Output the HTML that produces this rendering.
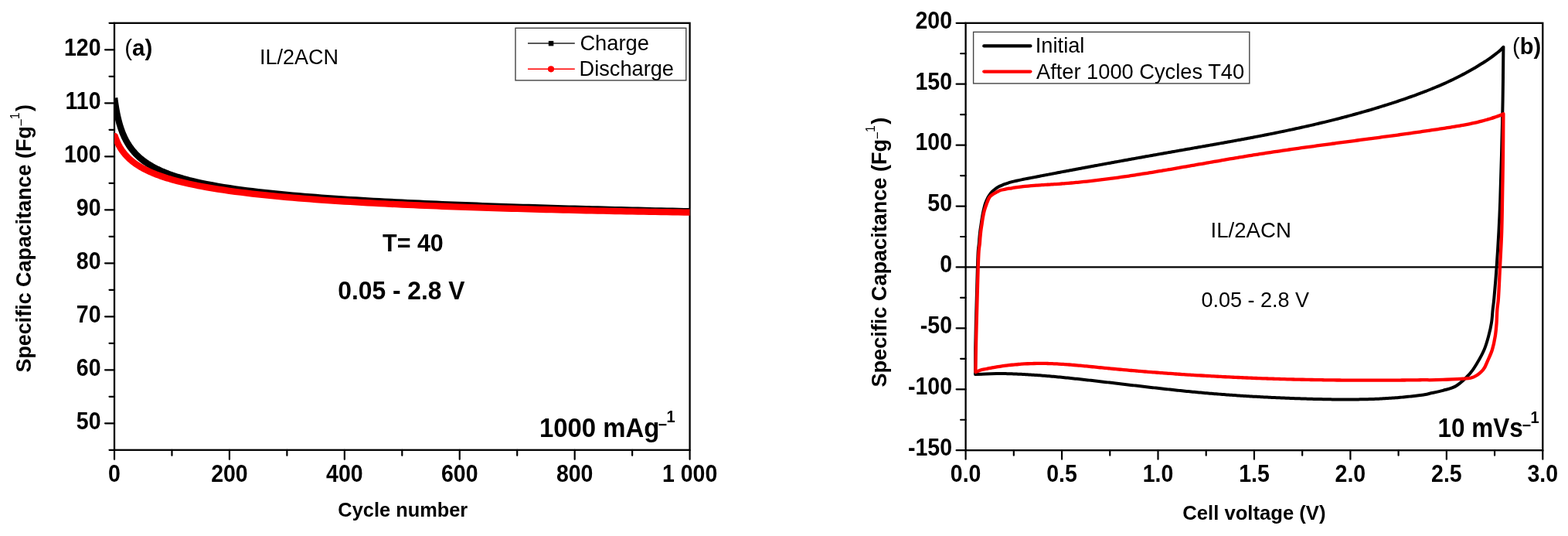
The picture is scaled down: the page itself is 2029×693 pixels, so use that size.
<!DOCTYPE html>
<html><head><meta charset="utf-8"><style>
html,body{margin:0;padding:0;background:#fff;}
svg{display:block;}
text{font-family:"Liberation Sans", Arial, sans-serif;fill:#000;}
</style></head><body>
<svg width="2029" height="693" viewBox="0 0 2029 693">
<rect width="2029" height="693" fill="#fff"/>
<rect x="148.00" y="29.80" width="744.60" height="552.00" fill="none" stroke="#000" stroke-width="2.3"/>
<line x1="141.50" y1="581.80" x2="148.00" y2="581.80" stroke="#000" stroke-width="2.2" stroke-linecap="round"/>
<line x1="136.00" y1="547.30" x2="148.00" y2="547.30" stroke="#000" stroke-width="2.2" stroke-linecap="round"/>
<line x1="141.50" y1="512.80" x2="148.00" y2="512.80" stroke="#000" stroke-width="2.2" stroke-linecap="round"/>
<line x1="136.00" y1="478.30" x2="148.00" y2="478.30" stroke="#000" stroke-width="2.2" stroke-linecap="round"/>
<line x1="141.50" y1="443.80" x2="148.00" y2="443.80" stroke="#000" stroke-width="2.2" stroke-linecap="round"/>
<line x1="136.00" y1="409.30" x2="148.00" y2="409.30" stroke="#000" stroke-width="2.2" stroke-linecap="round"/>
<line x1="141.50" y1="374.80" x2="148.00" y2="374.80" stroke="#000" stroke-width="2.2" stroke-linecap="round"/>
<line x1="136.00" y1="340.30" x2="148.00" y2="340.30" stroke="#000" stroke-width="2.2" stroke-linecap="round"/>
<line x1="141.50" y1="305.80" x2="148.00" y2="305.80" stroke="#000" stroke-width="2.2" stroke-linecap="round"/>
<line x1="136.00" y1="271.30" x2="148.00" y2="271.30" stroke="#000" stroke-width="2.2" stroke-linecap="round"/>
<line x1="141.50" y1="236.80" x2="148.00" y2="236.80" stroke="#000" stroke-width="2.2" stroke-linecap="round"/>
<line x1="136.00" y1="202.30" x2="148.00" y2="202.30" stroke="#000" stroke-width="2.2" stroke-linecap="round"/>
<line x1="141.50" y1="167.80" x2="148.00" y2="167.80" stroke="#000" stroke-width="2.2" stroke-linecap="round"/>
<line x1="136.00" y1="133.30" x2="148.00" y2="133.30" stroke="#000" stroke-width="2.2" stroke-linecap="round"/>
<line x1="141.50" y1="98.80" x2="148.00" y2="98.80" stroke="#000" stroke-width="2.2" stroke-linecap="round"/>
<line x1="136.00" y1="64.30" x2="148.00" y2="64.30" stroke="#000" stroke-width="2.2" stroke-linecap="round"/>
<line x1="141.50" y1="29.80" x2="148.00" y2="29.80" stroke="#000" stroke-width="2.2" stroke-linecap="round"/>
<text transform="translate(130.50,555.10) scale(1,1.07)" font-size="28.5" font-weight="bold" text-anchor="end" >50</text>
<text transform="translate(130.50,486.10) scale(1,1.07)" font-size="28.5" font-weight="bold" text-anchor="end" >60</text>
<text transform="translate(130.50,417.10) scale(1,1.07)" font-size="28.5" font-weight="bold" text-anchor="end" >70</text>
<text transform="translate(130.50,348.10) scale(1,1.07)" font-size="28.5" font-weight="bold" text-anchor="end" >80</text>
<text transform="translate(130.50,279.10) scale(1,1.07)" font-size="28.5" font-weight="bold" text-anchor="end" >90</text>
<text transform="translate(130.50,210.10) scale(1,1.07)" font-size="28.5" font-weight="bold" text-anchor="end" >100</text>
<text transform="translate(130.50,141.10) scale(1,1.07)" font-size="28.5" font-weight="bold" text-anchor="end" >110</text>
<text transform="translate(130.50,72.10) scale(1,1.07)" font-size="28.5" font-weight="bold" text-anchor="end" >120</text>
<line x1="148.00" y1="581.80" x2="148.00" y2="593.80" stroke="#000" stroke-width="2.2" stroke-linecap="round"/>
<line x1="222.46" y1="581.80" x2="222.46" y2="588.80" stroke="#000" stroke-width="2.2" stroke-linecap="round"/>
<line x1="296.92" y1="581.80" x2="296.92" y2="593.80" stroke="#000" stroke-width="2.2" stroke-linecap="round"/>
<line x1="371.38" y1="581.80" x2="371.38" y2="588.80" stroke="#000" stroke-width="2.2" stroke-linecap="round"/>
<line x1="445.84" y1="581.80" x2="445.84" y2="593.80" stroke="#000" stroke-width="2.2" stroke-linecap="round"/>
<line x1="520.30" y1="581.80" x2="520.30" y2="588.80" stroke="#000" stroke-width="2.2" stroke-linecap="round"/>
<line x1="594.76" y1="581.80" x2="594.76" y2="593.80" stroke="#000" stroke-width="2.2" stroke-linecap="round"/>
<line x1="669.22" y1="581.80" x2="669.22" y2="588.80" stroke="#000" stroke-width="2.2" stroke-linecap="round"/>
<line x1="743.68" y1="581.80" x2="743.68" y2="593.80" stroke="#000" stroke-width="2.2" stroke-linecap="round"/>
<line x1="818.14" y1="581.80" x2="818.14" y2="588.80" stroke="#000" stroke-width="2.2" stroke-linecap="round"/>
<line x1="892.60" y1="581.80" x2="892.60" y2="593.80" stroke="#000" stroke-width="2.2" stroke-linecap="round"/>
<text transform="translate(148.00,622.50) scale(1,1.07)" font-size="28.5" font-weight="bold" text-anchor="middle" >0</text>
<text transform="translate(296.92,622.50) scale(1,1.07)" font-size="28.5" font-weight="bold" text-anchor="middle" >200</text>
<text transform="translate(445.84,622.50) scale(1,1.07)" font-size="28.5" font-weight="bold" text-anchor="middle" >400</text>
<text transform="translate(594.76,622.50) scale(1,1.07)" font-size="28.5" font-weight="bold" text-anchor="middle" >600</text>
<text transform="translate(743.68,622.50) scale(1,1.07)" font-size="28.5" font-weight="bold" text-anchor="middle" >800</text>
<text transform="translate(892.60,622.50) scale(1,1.07)" font-size="28.5" font-weight="bold" text-anchor="middle" >1 000</text>
<defs><clipPath id="clipA"><rect x="148" y="29.8" width="744.6" height="552"/></clipPath><clipPath id="clipB"><rect x="1249.6" y="29.8" width="746.7" height="552.4"/></clipPath></defs>
<g clip-path="url(#clipA)" fill="none" stroke-linejoin="round" stroke-linecap="square">
<polyline points="148.74,130.82 149.12,133.45 149.49,135.92 149.86,138.26 150.23,140.47 150.61,142.57 150.98,144.57 151.35,146.47 151.72,148.29 152.10,150.02 152.47,151.68 152.84,153.28 153.21,154.81 153.58,156.27 153.96,157.69 154.33,159.05 154.70,160.37 155.07,161.63 155.45,162.86 155.82,164.05 156.19,165.19 156.56,166.30 156.94,167.38 157.31,168.43 157.68,169.44 158.05,170.43 158.42,171.39 158.80,172.32 159.17,173.23 159.54,174.11 159.91,174.97 160.29,175.81 160.66,176.63 161.03,177.43 161.40,178.21 161.78,178.97 162.15,179.72 162.52,180.44 162.89,181.16 164.38,183.85 165.87,186.34 167.36,188.64 168.85,190.77 170.34,192.77 171.83,194.64 173.32,196.39 174.81,198.05 176.29,199.61 177.78,201.09 179.27,202.49 180.76,203.83 182.25,205.10 183.74,206.32 185.23,207.48 186.72,208.59 188.21,209.66 189.70,210.68 191.19,211.67 192.68,212.61 194.17,213.53 195.65,214.41 197.14,215.26 198.63,216.08 200.12,216.87 201.61,217.64 203.10,218.39 204.59,219.11 206.08,219.81 207.57,220.49 209.06,221.16 210.55,221.80 212.04,222.42 213.52,223.03 215.01,223.63 216.50,224.21 217.99,224.77 219.48,225.32 220.97,225.86 222.46,226.38 229.91,228.83 237.35,231.02 244.80,233.01 252.24,234.82 259.69,236.49 267.14,238.02 274.58,239.44 282.03,240.77 289.47,242.01 296.92,243.17 304.37,244.26 311.81,245.29 319.26,246.26 326.70,247.18 334.15,248.06 341.60,248.90 349.04,249.69 356.49,250.45 363.93,251.18 371.38,251.88 378.83,252.54 386.27,253.19 393.72,253.80 401.16,254.40 408.61,254.97 416.06,255.53 423.50,256.06 430.95,256.58 438.39,257.08 445.84,257.56 453.29,258.03 460.73,258.49 468.18,258.93 475.62,259.36 483.07,259.78 490.52,260.19 497.96,260.58 505.41,260.97 512.85,261.34 520.30,261.71 527.75,262.07 535.19,262.42 542.64,262.76 550.08,263.09 557.53,263.41 564.98,263.73 572.42,264.04 579.87,264.34 587.31,264.64 594.76,264.93 602.21,265.22 609.65,265.50 617.10,265.77 624.54,266.04 631.99,266.30 639.44,266.56 646.88,266.81 654.33,267.06 661.77,267.30 669.22,267.54 676.67,267.78 684.11,268.01 691.56,268.24 699.00,268.46 706.45,268.68 713.90,268.90 721.34,269.11 728.79,269.32 736.23,269.53 743.68,269.73 751.13,269.93 758.57,270.13 766.02,270.32 773.46,270.51 780.91,270.70 788.36,270.88 795.80,271.07 803.25,271.25 810.69,271.42 818.14,271.60 825.59,271.77 833.03,271.94 840.48,272.11 847.92,272.28 855.37,272.44 862.82,272.60 870.26,272.76 877.71,272.92 885.15,273.07 892.00,273.21 894.83,273.27" stroke="#000" stroke-width="8.3"/>
<polyline points="148.74,175.96 149.12,177.05 149.49,178.10 149.86,179.11 150.23,180.08 150.61,181.02 150.98,181.92 151.35,182.79 151.72,183.63 152.10,184.44 152.47,185.23 152.84,185.99 153.21,186.73 153.58,187.45 153.96,188.15 154.33,188.83 154.70,189.49 155.07,190.14 155.45,190.77 155.82,191.38 156.19,191.98 156.56,192.56 156.94,193.13 157.31,193.69 157.68,194.24 158.05,194.77 158.42,195.29 158.80,195.80 159.17,196.30 159.54,196.79 159.91,197.27 160.29,197.75 160.66,198.21 161.03,198.66 161.40,199.11 161.78,199.55 162.15,199.98 162.52,200.40 162.89,200.81 164.38,202.41 165.87,203.90 167.36,205.31 168.85,206.64 170.34,207.90 171.83,209.10 173.32,210.24 174.81,211.32 176.29,212.36 177.78,213.36 179.27,214.31 180.76,215.23 182.25,216.11 183.74,216.96 185.23,217.78 186.72,218.57 188.21,219.34 189.70,220.08 191.19,220.79 192.68,221.49 194.17,222.16 195.65,222.82 197.14,223.46 198.63,224.08 200.12,224.68 201.61,225.27 203.10,225.84 204.59,226.40 206.08,226.94 207.57,227.47 209.06,227.99 210.55,228.50 212.04,228.99 213.52,229.48 215.01,229.95 216.50,230.42 217.99,230.87 219.48,231.32 220.97,231.75 222.46,232.18 229.91,234.20 237.35,236.05 244.80,237.74 252.24,239.31 259.69,240.77 267.14,242.13 274.58,243.40 282.03,244.60 289.47,245.72 296.92,246.79 304.37,247.80 311.81,248.75 319.26,249.66 326.70,250.53 334.15,251.36 341.60,252.15 349.04,252.91 356.49,253.63 363.93,254.33 371.38,255.00 378.83,255.64 386.27,256.26 393.72,256.86 401.16,257.44 408.61,257.99 416.06,258.53 423.50,259.05 430.95,259.55 438.39,260.04 445.84,260.51 453.29,260.96 460.73,261.41 468.18,261.84 475.62,262.25 483.07,262.66 490.52,263.05 497.96,263.43 505.41,263.80 512.85,264.17 520.30,264.52 527.75,264.86 535.19,265.19 542.64,265.52 550.08,265.84 557.53,266.14 564.98,266.44 572.42,266.74 579.87,267.02 587.31,267.30 594.76,267.58 602.21,267.84 609.65,268.10 617.10,268.35 624.54,268.60 631.99,268.84 639.44,269.08 646.88,269.31 654.33,269.54 661.77,269.76 669.22,269.97 676.67,270.18 684.11,270.39 691.56,270.59 699.00,270.79 706.45,270.98 713.90,271.17 721.34,271.36 728.79,271.54 736.23,271.72 743.68,271.89 751.13,272.06 758.57,272.23 766.02,272.39 773.46,272.55 780.91,272.70 788.36,272.86 795.80,273.01 803.25,273.15 810.69,273.30 818.14,273.44 825.59,273.57 833.03,273.71 840.48,273.84 847.92,273.97 855.37,274.10 862.82,274.22 870.26,274.34 877.71,274.46 885.15,274.58 892.00,274.68 894.83,274.73" stroke="#f00" stroke-width="8.3" stroke-linecap="round"/>
</g>
<rect x="667" y="36.3" width="220.8" height="67.6" fill="#fff" stroke="#444" stroke-width="1.4"/>
<line x1="683.00" y1="56.10" x2="743.80" y2="56.10" stroke="#222" stroke-width="1.5" stroke-linecap="butt"/>
<rect x="709.8" y="52.9" width="6.5" height="6.5" fill="#000"/>
<line x1="683.00" y1="89.30" x2="743.80" y2="89.30" stroke="#f00" stroke-width="1.5" stroke-linecap="butt"/>
<circle cx="713" cy="89.3" r="4.1" fill="#f00"/>
<text x="750.40" y="64.70" font-size="27.3" font-weight="normal" text-anchor="start" >Charge</text>
<text x="749.60" y="98.00" font-size="27.2" font-weight="normal" text-anchor="start" >Discharge</text>
<text x="161.2" y="72.3" font-size="29.5"><tspan font-weight="normal">(</tspan><tspan font-weight="bold">a)</tspan></text>
<text x="336.00" y="83.00" font-size="27" font-weight="normal" text-anchor="start" >IL/2ACN</text>
<text transform="translate(495.00,324.60) scale(1,1.03)" font-size="30.5" font-weight="bold" text-anchor="start" >T= 40</text>
<text transform="translate(437.20,386.80) scale(1,1.04)" font-size="31.8" font-weight="bold" text-anchor="start" >0.05 - 2.8 V</text>
<text transform="translate(698.00,564.80) scale(1,1.06)" font-size="32.9" font-weight="bold" text-anchor="start" >1000 mAg</text>
<text x="851.5" y="555.6" font-size="20" font-weight="bold">−</text>
<text x="862.5" y="546" font-size="20" font-weight="bold" transform="translate(0,-44) scale(1,1.08)">1</text>
<text transform="translate(521.30,667.90) scale(1,1.02)" font-size="25.4" font-weight="bold" text-anchor="middle" >Cycle number</text>
<g transform="translate(40.00,481.50) rotate(-90)"><text x="0" y="0" font-size="26.90" font-weight="bold">Specific Capacitance (Fg</text><text x="318.35" y="-6.80" font-size="16.9" font-weight="normal">−</text><text x="327.30" y="-15.40" font-size="15.8" font-weight="normal">1</text><text x="337.40" y="0" font-size="26.90" font-weight="bold">)</text></g>
<rect x="1249.60" y="29.80" width="746.70" height="552.40" fill="none" stroke="#000" stroke-width="2.3"/>
<line x1="1237.60" y1="582.20" x2="1249.60" y2="582.20" stroke="#000" stroke-width="2.2" stroke-linecap="round"/>
<line x1="1243.10" y1="542.74" x2="1249.60" y2="542.74" stroke="#000" stroke-width="2.2" stroke-linecap="round"/>
<line x1="1237.60" y1="503.29" x2="1249.60" y2="503.29" stroke="#000" stroke-width="2.2" stroke-linecap="round"/>
<line x1="1243.10" y1="463.83" x2="1249.60" y2="463.83" stroke="#000" stroke-width="2.2" stroke-linecap="round"/>
<line x1="1237.60" y1="424.37" x2="1249.60" y2="424.37" stroke="#000" stroke-width="2.2" stroke-linecap="round"/>
<line x1="1243.10" y1="384.91" x2="1249.60" y2="384.91" stroke="#000" stroke-width="2.2" stroke-linecap="round"/>
<line x1="1237.60" y1="345.46" x2="1249.60" y2="345.46" stroke="#000" stroke-width="2.2" stroke-linecap="round"/>
<line x1="1243.10" y1="306.00" x2="1249.60" y2="306.00" stroke="#000" stroke-width="2.2" stroke-linecap="round"/>
<line x1="1237.60" y1="266.54" x2="1249.60" y2="266.54" stroke="#000" stroke-width="2.2" stroke-linecap="round"/>
<line x1="1243.10" y1="227.09" x2="1249.60" y2="227.09" stroke="#000" stroke-width="2.2" stroke-linecap="round"/>
<line x1="1237.60" y1="187.63" x2="1249.60" y2="187.63" stroke="#000" stroke-width="2.2" stroke-linecap="round"/>
<line x1="1243.10" y1="148.17" x2="1249.60" y2="148.17" stroke="#000" stroke-width="2.2" stroke-linecap="round"/>
<line x1="1237.60" y1="108.71" x2="1249.60" y2="108.71" stroke="#000" stroke-width="2.2" stroke-linecap="round"/>
<line x1="1243.10" y1="69.26" x2="1249.60" y2="69.26" stroke="#000" stroke-width="2.2" stroke-linecap="round"/>
<line x1="1237.60" y1="29.80" x2="1249.60" y2="29.80" stroke="#000" stroke-width="2.2" stroke-linecap="round"/>
<text transform="translate(1232.00,589.00) scale(1,1.07)" font-size="28.5" font-weight="bold" text-anchor="end" >-150</text>
<text transform="translate(1232.00,510.09) scale(1,1.07)" font-size="28.5" font-weight="bold" text-anchor="end" >-100</text>
<text transform="translate(1232.00,431.17) scale(1,1.07)" font-size="28.5" font-weight="bold" text-anchor="end" >-50</text>
<text transform="translate(1232.00,352.26) scale(1,1.07)" font-size="28.5" font-weight="bold" text-anchor="end" >0</text>
<text transform="translate(1232.00,273.34) scale(1,1.07)" font-size="28.5" font-weight="bold" text-anchor="end" >50</text>
<text transform="translate(1232.00,194.43) scale(1,1.07)" font-size="28.5" font-weight="bold" text-anchor="end" >100</text>
<text transform="translate(1232.00,115.51) scale(1,1.07)" font-size="28.5" font-weight="bold" text-anchor="end" >150</text>
<text transform="translate(1232.00,36.60) scale(1,1.07)" font-size="28.5" font-weight="bold" text-anchor="end" >200</text>
<line x1="1249.60" y1="582.20" x2="1249.60" y2="593.70" stroke="#000" stroke-width="2.2" stroke-linecap="round"/>
<line x1="1311.82" y1="582.20" x2="1311.82" y2="588.70" stroke="#000" stroke-width="2.2" stroke-linecap="round"/>
<line x1="1374.05" y1="582.20" x2="1374.05" y2="593.70" stroke="#000" stroke-width="2.2" stroke-linecap="round"/>
<line x1="1436.27" y1="582.20" x2="1436.27" y2="588.70" stroke="#000" stroke-width="2.2" stroke-linecap="round"/>
<line x1="1498.50" y1="582.20" x2="1498.50" y2="593.70" stroke="#000" stroke-width="2.2" stroke-linecap="round"/>
<line x1="1560.72" y1="582.20" x2="1560.72" y2="588.70" stroke="#000" stroke-width="2.2" stroke-linecap="round"/>
<line x1="1622.95" y1="582.20" x2="1622.95" y2="593.70" stroke="#000" stroke-width="2.2" stroke-linecap="round"/>
<line x1="1685.17" y1="582.20" x2="1685.17" y2="588.70" stroke="#000" stroke-width="2.2" stroke-linecap="round"/>
<line x1="1747.40" y1="582.20" x2="1747.40" y2="593.70" stroke="#000" stroke-width="2.2" stroke-linecap="round"/>
<line x1="1809.62" y1="582.20" x2="1809.62" y2="588.70" stroke="#000" stroke-width="2.2" stroke-linecap="round"/>
<line x1="1871.85" y1="582.20" x2="1871.85" y2="593.70" stroke="#000" stroke-width="2.2" stroke-linecap="round"/>
<line x1="1934.07" y1="582.20" x2="1934.07" y2="588.70" stroke="#000" stroke-width="2.2" stroke-linecap="round"/>
<line x1="1996.30" y1="582.20" x2="1996.30" y2="593.70" stroke="#000" stroke-width="2.2" stroke-linecap="round"/>
<text transform="translate(1249.60,622.50) scale(1,1.07)" font-size="28.5" font-weight="bold" text-anchor="middle" >0.0</text>
<text transform="translate(1374.05,622.50) scale(1,1.07)" font-size="28.5" font-weight="bold" text-anchor="middle" >0.5</text>
<text transform="translate(1498.50,622.50) scale(1,1.07)" font-size="28.5" font-weight="bold" text-anchor="middle" >1.0</text>
<text transform="translate(1622.95,622.50) scale(1,1.07)" font-size="28.5" font-weight="bold" text-anchor="middle" >1.5</text>
<text transform="translate(1747.40,622.50) scale(1,1.07)" font-size="28.5" font-weight="bold" text-anchor="middle" >2.0</text>
<text transform="translate(1871.85,622.50) scale(1,1.07)" font-size="28.5" font-weight="bold" text-anchor="middle" >2.5</text>
<text transform="translate(1996.30,622.50) scale(1,1.07)" font-size="28.5" font-weight="bold" text-anchor="middle" >3.0</text>
<line x1="1249.60" y1="345.46" x2="1996.30" y2="345.46" stroke="#000" stroke-width="2.2" stroke-linecap="butt"/>
<g fill="none" stroke-linejoin="round" stroke-linecap="round">
<path d="M1262.00,484.00 C1262.03,478.33 1262.07,460.67 1262.20,450.00 C1262.33,439.33 1262.58,429.17 1262.80,420.00 C1263.02,410.83 1263.27,403.33 1263.50,395.00 C1263.73,386.67 1263.97,378.25 1264.20,370.00 C1264.43,361.75 1264.65,353.00 1264.90,345.50 C1265.15,338.00 1265.38,330.08 1265.70,325.00 C1266.02,319.92 1266.52,318.00 1266.80,315.00 C1267.08,312.00 1267.15,309.78 1267.40,307.00 C1267.65,304.22 1267.93,301.20 1268.30,298.30 C1268.67,295.40 1269.17,292.48 1269.60,289.60 C1270.03,286.72 1270.40,283.88 1270.90,281.00 C1271.40,278.12 1271.90,275.33 1272.60,272.30 C1273.30,269.27 1273.98,265.90 1275.10,262.80 C1276.22,259.70 1277.83,256.22 1279.30,253.70 C1280.77,251.18 1282.37,249.33 1283.90,247.70 C1285.43,246.07 1287.07,244.96 1288.50,243.90 C1289.93,242.84 1291.17,242.07 1292.51,241.34 C1293.84,240.62 1295.18,240.10 1296.51,239.54 C1297.85,238.97 1299.18,238.46 1300.52,237.97 C1301.85,237.48 1303.19,237.03 1304.52,236.60 C1305.86,236.18 1307.19,235.79 1308.53,235.41 C1309.86,235.04 1311.20,234.70 1312.53,234.37 C1313.87,234.04 1315.20,233.74 1316.54,233.44 C1317.87,233.14 1319.21,232.86 1320.54,232.59 C1321.88,232.31 1323.21,232.05 1324.55,231.79 C1325.88,231.53 1327.22,231.27 1328.55,231.01 C1329.89,230.75 1331.23,230.49 1332.56,230.23 C1333.90,229.98 1335.23,229.72 1336.57,229.46 C1337.90,229.20 1339.24,228.94 1340.57,228.69 C1341.91,228.43 1343.24,228.17 1344.58,227.92 C1345.91,227.66 1347.25,227.40 1348.58,227.15 C1349.92,226.89 1351.25,226.64 1352.59,226.38 C1353.92,226.13 1355.26,225.87 1356.59,225.62 C1357.93,225.36 1359.26,225.11 1360.60,224.85 C1361.93,224.60 1363.27,224.34 1364.60,224.09 C1365.94,223.84 1367.27,223.58 1368.61,223.33 C1369.94,223.08 1371.28,222.82 1372.62,222.57 C1373.95,222.32 1375.29,222.07 1376.62,221.81 C1377.96,221.56 1379.29,221.31 1380.63,221.06 C1381.96,220.81 1383.30,220.56 1384.63,220.31 C1385.97,220.06 1387.30,219.80 1388.64,219.55 C1389.97,219.30 1391.31,219.05 1392.64,218.80 C1393.98,218.56 1395.31,218.31 1396.65,218.06 C1397.98,217.81 1399.32,217.56 1400.65,217.31 C1401.99,217.06 1403.32,216.81 1404.66,216.56 C1405.99,216.32 1407.33,216.07 1408.66,215.82 C1410.00,215.57 1411.33,215.33 1412.67,215.08 C1414.01,214.83 1415.34,214.59 1416.68,214.34 C1418.01,214.09 1419.35,213.85 1420.68,213.60 C1422.02,213.36 1423.35,213.11 1424.69,212.86 C1426.02,212.62 1427.36,212.37 1428.69,212.13 C1430.03,211.88 1431.36,211.64 1432.70,211.39 C1434.03,211.15 1435.37,210.91 1436.70,210.66 C1438.04,210.42 1439.37,210.17 1440.71,209.93 C1442.04,209.69 1443.38,209.44 1444.71,209.20 C1446.05,208.96 1447.38,208.72 1448.72,208.47 C1450.05,208.23 1451.39,207.99 1452.72,207.75 C1454.06,207.50 1455.40,207.26 1456.73,207.02 C1458.07,206.78 1459.40,206.54 1460.74,206.30 C1462.07,206.06 1463.41,205.82 1464.74,205.58 C1466.08,205.34 1467.41,205.09 1468.75,204.85 C1470.08,204.61 1471.42,204.37 1472.75,204.14 C1474.09,203.90 1475.42,203.66 1476.76,203.42 C1478.09,203.18 1479.43,202.94 1480.76,202.70 C1482.10,202.46 1483.43,202.22 1484.77,201.98 C1486.10,201.75 1487.44,201.51 1488.77,201.27 C1490.11,201.03 1491.44,200.80 1492.78,200.56 C1494.12,200.32 1495.45,200.08 1496.79,199.85 C1498.12,199.61 1499.46,199.37 1500.79,199.14 C1502.13,198.90 1503.46,198.66 1504.80,198.43 C1506.13,198.19 1507.47,197.96 1508.80,197.72 C1510.14,197.48 1511.47,197.25 1512.81,197.01 C1514.14,196.78 1515.48,196.54 1516.81,196.31 C1518.15,196.07 1519.48,195.84 1520.82,195.60 C1522.15,195.37 1523.49,195.14 1524.82,194.90 C1526.16,194.67 1527.49,194.43 1528.83,194.20 C1530.16,193.97 1531.50,193.73 1532.83,193.50 C1534.17,193.26 1535.51,193.03 1536.84,192.80 C1538.18,192.56 1539.51,192.33 1540.85,192.10 C1542.18,191.86 1543.52,191.63 1544.85,191.39 C1546.19,191.16 1547.52,190.93 1548.86,190.69 C1550.19,190.46 1551.53,190.22 1552.86,189.99 C1554.20,189.76 1555.53,189.52 1556.87,189.29 C1558.20,189.05 1559.54,188.82 1560.87,188.58 C1562.21,188.35 1563.54,188.11 1564.88,187.88 C1566.21,187.64 1567.55,187.40 1568.88,187.17 C1570.22,186.93 1571.55,186.69 1572.89,186.46 C1574.22,186.22 1575.56,185.98 1576.90,185.74 C1578.23,185.50 1579.57,185.27 1580.90,185.03 C1582.24,184.79 1583.57,184.55 1584.91,184.31 C1586.24,184.07 1587.58,183.83 1588.91,183.59 C1590.25,183.35 1591.58,183.10 1592.92,182.86 C1594.25,182.62 1595.59,182.38 1596.92,182.13 C1598.26,181.89 1599.59,181.64 1600.93,181.40 C1602.26,181.15 1603.60,180.91 1604.93,180.66 C1606.27,180.41 1607.60,180.17 1608.94,179.92 C1610.27,179.67 1611.61,179.42 1612.94,179.17 C1614.28,178.92 1615.61,178.67 1616.95,178.42 C1618.29,178.17 1619.62,177.91 1620.96,177.66 C1622.29,177.41 1623.63,177.15 1624.96,176.90 C1626.30,176.64 1627.63,176.38 1628.97,176.13 C1630.30,175.87 1631.64,175.61 1632.97,175.35 C1634.31,175.09 1635.64,174.83 1636.98,174.57 C1638.31,174.30 1639.65,174.04 1640.98,173.78 C1642.32,173.51 1643.65,173.25 1644.99,172.98 C1646.32,172.71 1647.66,172.44 1648.99,172.18 C1650.33,171.91 1651.66,171.64 1653.00,171.36 C1654.33,171.09 1655.67,170.82 1657.00,170.54 C1658.34,170.27 1659.68,169.99 1661.01,169.71 C1662.35,169.44 1663.68,169.16 1665.02,168.88 C1666.35,168.60 1667.69,168.32 1669.02,168.03 C1670.36,167.75 1671.69,167.46 1673.03,167.18 C1674.36,166.89 1675.70,166.60 1677.03,166.31 C1678.37,166.02 1679.70,165.73 1681.04,165.44 C1682.37,165.15 1683.71,164.85 1685.04,164.56 C1686.38,164.26 1687.71,163.96 1689.05,163.66 C1690.38,163.36 1691.72,163.06 1693.05,162.76 C1694.39,162.46 1695.72,162.15 1697.06,161.84 C1698.39,161.54 1699.73,161.23 1701.07,160.92 C1702.40,160.61 1703.74,160.30 1705.07,159.98 C1706.41,159.67 1707.74,159.35 1709.08,159.03 C1710.41,158.71 1711.75,158.39 1713.08,158.07 C1714.42,157.75 1715.75,157.42 1717.09,157.10 C1718.42,156.77 1719.76,156.44 1721.09,156.11 C1722.43,155.78 1723.76,155.45 1725.10,155.12 C1726.43,154.78 1727.77,154.44 1729.10,154.10 C1730.44,153.77 1731.77,153.42 1733.11,153.08 C1734.44,152.74 1735.78,152.39 1737.11,152.04 C1738.45,151.70 1739.78,151.34 1741.12,150.99 C1742.46,150.64 1743.79,150.28 1745.13,149.93 C1746.46,149.57 1747.80,149.21 1749.13,148.85 C1750.47,148.48 1751.80,148.12 1753.14,147.75 C1754.47,147.39 1755.81,147.02 1757.14,146.64 C1758.48,146.27 1759.81,145.90 1761.15,145.52 C1762.48,145.14 1763.82,144.76 1765.15,144.38 C1766.49,144.00 1767.82,143.61 1769.16,143.22 C1770.49,142.84 1771.83,142.45 1773.16,142.05 C1774.50,141.66 1775.83,141.26 1777.17,140.87 C1778.50,140.47 1779.84,140.07 1781.18,139.66 C1782.51,139.26 1783.85,138.85 1785.18,138.44 C1786.52,138.03 1787.85,137.62 1789.19,137.20 C1790.52,136.79 1791.86,136.37 1793.19,135.95 C1794.53,135.52 1795.86,135.10 1797.20,134.67 C1798.53,134.25 1799.87,133.82 1801.20,133.38 C1802.54,132.95 1803.87,132.51 1805.21,132.07 C1806.54,131.63 1807.88,131.19 1809.21,130.74 C1810.55,130.30 1811.88,129.85 1813.22,129.40 C1814.55,128.95 1815.89,128.49 1817.22,128.03 C1818.56,127.57 1819.89,127.11 1821.23,126.65 C1822.57,126.18 1823.90,125.71 1825.24,125.24 C1826.57,124.77 1827.91,124.30 1829.24,123.82 C1830.58,123.34 1831.91,122.85 1833.25,122.36 C1834.58,121.87 1835.92,121.38 1837.25,120.88 C1838.59,120.39 1839.92,119.88 1841.26,119.38 C1842.59,118.87 1843.93,118.36 1845.26,117.84 C1846.60,117.32 1847.93,116.79 1849.27,116.26 C1850.60,115.73 1851.94,115.20 1853.27,114.66 C1854.61,114.11 1855.94,113.57 1857.28,113.01 C1858.61,112.46 1859.95,111.89 1861.28,111.32 C1862.62,110.76 1863.96,110.18 1865.29,109.60 C1866.63,109.01 1867.96,108.42 1869.30,107.82 C1870.63,107.23 1871.97,106.62 1873.30,106.00 C1874.64,105.39 1875.97,104.77 1877.31,104.14 C1878.64,103.51 1879.98,102.87 1881.31,102.22 C1882.65,101.57 1883.98,100.91 1885.32,100.25 C1886.65,99.58 1887.99,98.90 1889.32,98.22 C1890.66,97.53 1891.99,96.84 1893.33,96.13 C1894.66,95.43 1896.00,94.71 1897.33,93.99 C1898.67,93.26 1900.00,92.53 1901.34,91.78 C1902.67,91.03 1904.01,90.28 1905.35,89.51 C1906.68,88.74 1908.02,87.96 1909.35,87.17 C1910.69,86.38 1912.02,85.58 1913.36,84.76 C1914.69,83.95 1916.03,83.13 1917.36,82.29 C1918.70,81.45 1920.03,80.59 1921.37,79.72 C1922.70,78.85 1924.04,77.97 1925.37,77.06 C1926.71,76.15 1928.04,75.22 1929.38,74.27 C1930.71,73.32 1932.05,72.35 1933.38,71.35 C1934.72,70.35 1936.05,69.32 1937.39,68.26 C1938.72,67.21 1940.06,66.25 1941.39,65.00 C1942.73,63.76 1944.73,61.50 1945.40,60.80 C1945.27,72.33 1945.00,106.80 1944.60,130.00 C1944.20,153.20 1943.57,178.33 1943.00,200.00 C1942.43,221.67 1941.80,243.33 1941.20,260.00 C1940.60,276.67 1940.17,285.75 1939.40,300.00 C1938.63,314.25 1937.60,331.33 1936.60,345.50 C1935.60,359.67 1934.22,375.92 1933.40,385.00 C1932.58,394.08 1932.27,394.62 1931.70,400.00 C1931.13,405.38 1930.92,411.53 1930.00,417.30 C1929.08,423.07 1927.77,428.82 1926.20,434.60 C1924.63,440.38 1923.05,446.22 1920.60,452.00 C1918.15,457.78 1914.60,464.12 1911.50,469.30 C1908.40,474.48 1906.48,478.20 1902.00,483.10 C1897.52,488.00 1890.38,495.08 1884.60,498.70 C1878.82,502.32 1873.07,503.13 1867.30,504.80 C1861.53,506.47 1853.55,507.86 1850.00,508.70 C1846.45,509.54 1847.33,509.53 1846.00,509.81 C1844.66,510.10 1843.33,510.21 1841.99,510.40 C1840.66,510.59 1839.32,510.77 1837.99,510.95 C1836.65,511.13 1835.32,511.30 1833.98,511.47 C1832.65,511.64 1831.31,511.80 1829.98,511.96 C1828.64,512.12 1827.31,512.27 1825.97,512.42 C1824.64,512.57 1823.30,512.71 1821.97,512.85 C1820.64,512.99 1819.30,513.12 1817.97,513.25 C1816.63,513.38 1815.30,513.51 1813.96,513.63 C1812.63,513.75 1811.29,513.86 1809.96,513.98 C1808.62,514.09 1807.29,514.19 1805.95,514.30 C1804.62,514.40 1803.28,514.50 1801.95,514.59 C1800.61,514.69 1799.28,514.78 1797.94,514.87 C1796.61,514.95 1795.27,515.04 1793.94,515.12 C1792.61,515.19 1791.27,515.27 1789.94,515.34 C1788.60,515.41 1787.27,515.48 1785.93,515.54 C1784.60,515.61 1783.26,515.67 1781.93,515.73 C1780.59,515.78 1779.26,515.84 1777.92,515.89 C1776.59,515.94 1775.25,515.98 1773.92,516.03 C1772.58,516.07 1771.25,516.11 1769.91,516.15 C1768.58,516.19 1767.24,516.22 1765.91,516.25 C1764.58,516.28 1763.24,516.31 1761.91,516.33 C1760.57,516.36 1759.24,516.38 1757.90,516.40 C1756.57,516.42 1755.23,516.44 1753.90,516.45 C1752.56,516.47 1751.23,516.48 1749.89,516.49 C1748.56,516.50 1747.22,516.50 1745.89,516.51 C1744.55,516.51 1743.22,516.51 1741.88,516.51 C1740.55,516.51 1739.21,516.51 1737.88,516.50 C1736.55,516.50 1735.21,516.49 1733.88,516.48 C1732.54,516.47 1731.21,516.46 1729.87,516.45 C1728.54,516.43 1727.20,516.42 1725.87,516.40 C1724.53,516.39 1723.20,516.37 1721.86,516.35 C1720.53,516.33 1719.19,516.30 1717.86,516.28 C1716.52,516.26 1715.19,516.23 1713.85,516.21 C1712.52,516.18 1711.18,516.15 1709.85,516.12 C1708.52,516.09 1707.18,516.06 1705.85,516.03 C1704.51,516.00 1703.18,515.97 1701.84,515.93 C1700.51,515.90 1699.17,515.87 1697.84,515.83 C1696.50,515.79 1695.17,515.76 1693.83,515.72 C1692.50,515.68 1691.16,515.64 1689.83,515.60 C1688.49,515.56 1687.16,515.52 1685.82,515.48 C1684.49,515.44 1683.15,515.40 1681.82,515.35 C1680.49,515.31 1679.15,515.26 1677.82,515.22 C1676.48,515.17 1675.15,515.12 1673.81,515.08 C1672.48,515.03 1671.14,514.98 1669.81,514.93 C1668.47,514.88 1667.14,514.83 1665.80,514.77 C1664.47,514.72 1663.13,514.67 1661.80,514.61 C1660.46,514.56 1659.13,514.50 1657.79,514.45 C1656.46,514.39 1655.12,514.33 1653.79,514.27 C1652.46,514.21 1651.12,514.15 1649.79,514.09 C1648.45,514.03 1647.12,513.97 1645.78,513.90 C1644.45,513.84 1643.11,513.78 1641.78,513.71 C1640.44,513.65 1639.11,513.58 1637.77,513.51 C1636.44,513.44 1635.10,513.37 1633.77,513.30 C1632.43,513.23 1631.10,513.16 1629.76,513.09 C1628.43,513.01 1627.09,512.94 1625.76,512.87 C1624.43,512.79 1623.09,512.71 1621.76,512.64 C1620.42,512.56 1619.09,512.48 1617.75,512.40 C1616.42,512.32 1615.08,512.24 1613.75,512.16 C1612.41,512.08 1611.08,511.99 1609.74,511.91 C1608.41,511.82 1607.07,511.74 1605.74,511.65 C1604.40,511.56 1603.07,511.47 1601.73,511.38 C1600.40,511.29 1599.06,511.20 1597.73,511.11 C1596.40,511.02 1595.06,510.93 1593.73,510.83 C1592.39,510.74 1591.06,510.64 1589.72,510.54 C1588.39,510.45 1587.05,510.35 1585.72,510.25 C1584.38,510.15 1583.05,510.05 1581.71,509.94 C1580.38,509.84 1579.04,509.74 1577.71,509.63 C1576.37,509.53 1575.04,509.42 1573.70,509.31 C1572.37,509.21 1571.03,509.10 1569.70,508.99 C1568.37,508.88 1567.03,508.77 1565.70,508.65 C1564.36,508.54 1563.03,508.42 1561.69,508.31 C1560.36,508.19 1559.02,508.08 1557.69,507.96 C1556.35,507.84 1555.02,507.72 1553.68,507.60 C1552.35,507.48 1551.01,507.36 1549.68,507.23 C1548.34,507.11 1547.01,506.98 1545.67,506.86 C1544.34,506.73 1543.00,506.60 1541.67,506.47 C1540.34,506.34 1539.00,506.21 1537.67,506.08 C1536.33,505.95 1535.00,505.82 1533.66,505.68 C1532.33,505.55 1530.99,505.41 1529.66,505.28 C1528.32,505.14 1526.99,505.00 1525.65,504.87 C1524.32,504.73 1522.98,504.59 1521.65,504.45 C1520.31,504.31 1518.98,504.17 1517.64,504.02 C1516.31,503.88 1514.97,503.74 1513.64,503.60 C1512.31,503.45 1510.97,503.31 1509.64,503.16 C1508.30,503.02 1506.97,502.87 1505.63,502.72 C1504.30,502.57 1502.96,502.43 1501.63,502.28 C1500.29,502.13 1498.96,501.98 1497.62,501.83 C1496.29,501.68 1494.95,501.53 1493.62,501.38 C1492.28,501.23 1490.95,501.07 1489.61,500.92 C1488.28,500.77 1486.94,500.62 1485.61,500.46 C1484.28,500.31 1482.94,500.16 1481.61,500.00 C1480.27,499.85 1478.94,499.69 1477.60,499.54 C1476.27,499.38 1474.93,499.23 1473.60,499.07 C1472.26,498.92 1470.93,498.76 1469.59,498.61 C1468.26,498.45 1466.92,498.29 1465.59,498.14 C1464.25,497.98 1462.92,497.83 1461.58,497.67 C1460.25,497.51 1458.91,497.35 1457.58,497.20 C1456.25,497.04 1454.91,496.88 1453.58,496.73 C1452.24,496.57 1450.91,496.41 1449.57,496.26 C1448.24,496.10 1446.90,495.94 1445.57,495.79 C1444.23,495.63 1442.90,495.47 1441.56,495.32 C1440.23,495.16 1438.89,495.00 1437.56,494.85 C1436.22,494.69 1434.89,494.53 1433.55,494.38 C1432.22,494.22 1430.88,494.07 1429.55,493.91 C1428.22,493.76 1426.88,493.60 1425.55,493.45 C1424.21,493.29 1422.88,493.14 1421.54,492.99 C1420.21,492.83 1418.87,492.68 1417.54,492.53 C1416.20,492.38 1414.87,492.22 1413.53,492.07 C1412.20,491.92 1410.86,491.77 1409.53,491.62 C1408.19,491.47 1406.86,491.32 1405.52,491.17 C1404.19,491.02 1402.85,490.88 1401.52,490.73 C1400.19,490.58 1398.85,490.43 1397.52,490.29 C1396.18,490.14 1394.85,490.00 1393.51,489.85 C1392.18,489.71 1390.84,489.57 1389.51,489.43 C1388.17,489.29 1386.84,489.15 1385.50,489.01 C1384.17,488.87 1382.83,488.73 1381.50,488.60 C1380.16,488.46 1378.83,488.33 1377.49,488.19 C1376.16,488.06 1374.82,487.93 1373.49,487.80 C1372.16,487.67 1370.82,487.54 1369.49,487.41 C1368.15,487.29 1366.82,487.16 1365.48,487.04 C1364.15,486.92 1362.81,486.80 1361.48,486.68 C1360.14,486.56 1358.81,486.44 1357.47,486.33 C1356.14,486.22 1354.80,486.10 1353.47,485.99 C1352.13,485.88 1350.80,485.78 1349.46,485.67 C1348.13,485.56 1346.79,485.46 1345.46,485.36 C1344.13,485.26 1342.79,485.16 1341.46,485.07 C1340.12,484.97 1338.79,484.88 1337.45,484.79 C1336.12,484.70 1334.78,484.61 1333.45,484.53 C1332.11,484.45 1330.78,484.36 1329.44,484.29 C1328.11,484.21 1326.77,484.13 1325.44,484.06 C1324.10,483.99 1322.77,483.92 1321.43,483.85 C1320.10,483.79 1318.76,483.72 1317.43,483.66 C1316.10,483.61 1314.76,483.55 1313.43,483.50 C1312.09,483.45 1310.76,483.40 1309.42,483.35 C1308.09,483.31 1306.75,483.26 1305.42,483.23 C1304.08,483.19 1302.75,483.15 1301.41,483.12 C1300.08,483.09 1298.74,483.07 1297.41,483.04 C1296.07,483.02 1294.74,482.98 1293.40,482.99 C1292.07,483.00 1294.63,482.93 1289.40,483.10 C1284.17,483.27 1266.57,483.85 1262.00,484.00" stroke="#000" stroke-width="4.0"/>
<path d="M1262.40,481.00 C1262.48,475.83 1262.70,460.17 1262.90,450.00 C1263.10,439.83 1263.37,429.17 1263.60,420.00 C1263.83,410.83 1264.07,403.33 1264.30,395.00 C1264.53,386.67 1264.77,378.25 1265.00,370.00 C1265.23,361.75 1265.43,353.00 1265.70,345.50 C1265.97,338.00 1266.25,330.08 1266.60,325.00 C1266.95,319.92 1267.50,318.00 1267.80,315.00 C1268.10,312.00 1268.15,309.78 1268.40,307.00 C1268.65,304.22 1268.93,301.20 1269.30,298.30 C1269.67,295.40 1270.17,292.48 1270.60,289.60 C1271.03,286.72 1271.37,283.88 1271.90,281.00 C1272.43,278.12 1272.98,275.27 1273.80,272.30 C1274.62,269.33 1275.75,266.00 1276.80,263.20 C1277.85,260.40 1278.90,257.42 1280.10,255.50 C1281.30,253.58 1282.35,252.92 1284.00,251.70 C1285.65,250.48 1288.33,249.12 1290.00,248.20 C1291.67,247.28 1292.68,246.67 1294.02,246.18 C1295.36,245.69 1296.70,245.56 1298.04,245.27 C1299.38,244.98 1300.72,244.71 1302.06,244.45 C1303.40,244.19 1304.74,243.94 1306.08,243.71 C1307.42,243.47 1308.76,243.25 1310.10,243.03 C1311.44,242.82 1312.78,242.62 1314.13,242.43 C1315.47,242.24 1316.81,242.06 1318.15,241.89 C1319.49,241.71 1320.83,241.55 1322.17,241.40 C1323.51,241.24 1324.85,241.10 1326.19,240.96 C1327.53,240.82 1328.87,240.69 1330.21,240.57 C1331.55,240.44 1332.89,240.32 1334.23,240.21 C1335.57,240.10 1336.91,239.99 1338.25,239.89 C1339.59,239.78 1340.93,239.69 1342.27,239.59 C1343.61,239.49 1344.95,239.40 1346.29,239.31 C1347.63,239.22 1348.97,239.14 1350.31,239.05 C1351.65,238.97 1352.99,238.88 1354.33,238.80 C1355.67,238.72 1357.01,238.64 1358.35,238.55 C1359.69,238.47 1361.04,238.39 1362.38,238.30 C1363.72,238.22 1365.06,238.13 1366.40,238.05 C1367.74,237.96 1369.08,237.87 1370.42,237.77 C1371.76,237.68 1373.10,237.58 1374.44,237.48 C1375.78,237.39 1377.12,237.28 1378.46,237.18 C1379.80,237.07 1381.14,236.96 1382.48,236.85 C1383.82,236.74 1385.16,236.63 1386.50,236.51 C1387.84,236.39 1389.18,236.27 1390.52,236.15 C1391.86,236.02 1393.20,235.90 1394.54,235.77 C1395.88,235.64 1397.22,235.51 1398.56,235.38 C1399.90,235.24 1401.24,235.11 1402.58,234.97 C1403.92,234.83 1405.26,234.69 1406.60,234.54 C1407.95,234.40 1409.29,234.25 1410.63,234.10 C1411.97,233.95 1413.31,233.80 1414.65,233.65 C1415.99,233.50 1417.33,233.34 1418.67,233.18 C1420.01,233.02 1421.35,232.86 1422.69,232.70 C1424.03,232.54 1425.37,232.37 1426.71,232.20 C1428.05,232.04 1429.39,231.87 1430.73,231.69 C1432.07,231.52 1433.41,231.35 1434.75,231.17 C1436.09,231.00 1437.43,230.82 1438.77,230.64 C1440.11,230.46 1441.45,230.28 1442.79,230.09 C1444.13,229.91 1445.47,229.73 1446.81,229.54 C1448.15,229.35 1449.49,229.16 1450.83,228.97 C1452.17,228.78 1453.51,228.59 1454.86,228.39 C1456.20,228.20 1457.54,228.00 1458.88,227.81 C1460.22,227.61 1461.56,227.41 1462.90,227.21 C1464.24,227.01 1465.58,226.81 1466.92,226.60 C1468.26,226.40 1469.60,226.19 1470.94,225.99 C1472.28,225.78 1473.62,225.57 1474.96,225.36 C1476.30,225.15 1477.64,224.94 1478.98,224.73 C1480.32,224.52 1481.66,224.31 1483.00,224.09 C1484.34,223.88 1485.68,223.66 1487.02,223.45 C1488.36,223.23 1489.70,223.01 1491.04,222.79 C1492.38,222.57 1493.72,222.35 1495.06,222.13 C1496.40,221.91 1497.74,221.69 1499.08,221.47 C1500.42,221.25 1501.77,221.02 1503.11,220.80 C1504.45,220.57 1505.79,220.35 1507.13,220.12 C1508.47,219.90 1509.81,219.67 1511.15,219.44 C1512.49,219.21 1513.83,218.98 1515.17,218.76 C1516.51,218.53 1517.85,218.30 1519.19,218.07 C1520.53,217.84 1521.87,217.61 1523.21,217.38 C1524.55,217.14 1525.89,216.91 1527.23,216.68 C1528.57,216.45 1529.91,216.22 1531.25,215.98 C1532.59,215.75 1533.93,215.52 1535.27,215.28 C1536.61,215.05 1537.95,214.81 1539.29,214.58 C1540.63,214.35 1541.97,214.11 1543.31,213.88 C1544.65,213.64 1545.99,213.41 1547.33,213.17 C1548.68,212.94 1550.02,212.70 1551.36,212.47 C1552.70,212.23 1554.04,212.00 1555.38,211.76 C1556.72,211.53 1558.06,211.30 1559.40,211.06 C1560.74,210.83 1562.08,210.59 1563.42,210.36 C1564.76,210.12 1566.10,209.89 1567.44,209.65 C1568.78,209.42 1570.12,209.19 1571.46,208.95 C1572.80,208.72 1574.14,208.49 1575.48,208.26 C1576.82,208.02 1578.16,207.79 1579.50,207.56 C1580.84,207.33 1582.18,207.10 1583.52,206.87 C1584.86,206.63 1586.20,206.40 1587.54,206.17 C1588.88,205.95 1590.22,205.72 1591.56,205.49 C1592.90,205.26 1594.24,205.03 1595.59,204.81 C1596.93,204.58 1598.27,204.35 1599.61,204.13 C1600.95,203.90 1602.29,203.68 1603.63,203.45 C1604.97,203.23 1606.31,203.01 1607.65,202.79 C1608.99,202.56 1610.33,202.34 1611.67,202.12 C1613.01,201.90 1614.35,201.68 1615.69,201.47 C1617.03,201.25 1618.37,201.03 1619.71,200.82 C1621.05,200.60 1622.39,200.39 1623.73,200.17 C1625.07,199.96 1626.41,199.75 1627.75,199.54 C1629.09,199.33 1630.43,199.12 1631.77,198.91 C1633.11,198.70 1634.45,198.49 1635.79,198.28 C1637.13,198.08 1638.47,197.87 1639.81,197.67 C1641.16,197.46 1642.50,197.26 1643.84,197.06 C1645.18,196.85 1646.52,196.65 1647.86,196.45 C1649.20,196.25 1650.54,196.05 1651.88,195.85 C1653.22,195.65 1654.56,195.45 1655.90,195.26 C1657.24,195.06 1658.58,194.86 1659.92,194.67 C1661.26,194.47 1662.60,194.28 1663.94,194.08 C1665.28,193.89 1666.62,193.69 1667.96,193.50 C1669.30,193.31 1670.64,193.12 1671.98,192.93 C1673.32,192.74 1674.66,192.55 1676.00,192.36 C1677.34,192.17 1678.68,191.98 1680.02,191.79 C1681.36,191.60 1682.70,191.41 1684.04,191.22 C1685.38,191.04 1686.72,190.85 1688.07,190.66 C1689.41,190.48 1690.75,190.29 1692.09,190.11 C1693.43,189.92 1694.77,189.74 1696.11,189.56 C1697.45,189.37 1698.79,189.19 1700.13,189.01 C1701.47,188.82 1702.81,188.64 1704.15,188.46 C1705.49,188.28 1706.83,188.09 1708.17,187.91 C1709.51,187.73 1710.85,187.55 1712.19,187.37 C1713.53,187.19 1714.87,187.01 1716.21,186.83 C1717.55,186.65 1718.89,186.47 1720.23,186.29 C1721.57,186.11 1722.91,185.93 1724.25,185.75 C1725.59,185.58 1726.93,185.40 1728.27,185.22 C1729.61,185.04 1730.95,184.86 1732.29,184.69 C1733.63,184.51 1734.98,184.33 1736.32,184.15 C1737.66,183.98 1739.00,183.80 1740.34,183.62 C1741.68,183.44 1743.02,183.27 1744.36,183.09 C1745.70,182.91 1747.04,182.74 1748.38,182.56 C1749.72,182.38 1751.06,182.21 1752.40,182.03 C1753.74,181.85 1755.08,181.67 1756.42,181.50 C1757.76,181.32 1759.10,181.14 1760.44,180.97 C1761.78,180.79 1763.12,180.61 1764.46,180.44 C1765.80,180.26 1767.14,180.08 1768.48,179.90 C1769.82,179.73 1771.16,179.55 1772.50,179.37 C1773.84,179.19 1775.18,179.02 1776.52,178.84 C1777.86,178.66 1779.20,178.48 1780.54,178.30 C1781.89,178.13 1783.23,177.95 1784.57,177.77 C1785.91,177.59 1787.25,177.41 1788.59,177.23 C1789.93,177.05 1791.27,176.87 1792.61,176.69 C1793.95,176.51 1795.29,176.33 1796.63,176.15 C1797.97,175.97 1799.31,175.79 1800.65,175.60 C1801.99,175.42 1803.33,175.24 1804.67,175.06 C1806.01,174.88 1807.35,174.69 1808.69,174.51 C1810.03,174.33 1811.37,174.14 1812.71,173.96 C1814.05,173.77 1815.39,173.59 1816.73,173.40 C1818.07,173.22 1819.41,173.03 1820.75,172.84 C1822.09,172.66 1823.43,172.47 1824.77,172.28 C1826.11,172.09 1827.45,171.90 1828.80,171.72 C1830.14,171.53 1831.48,171.34 1832.82,171.15 C1834.16,170.96 1835.50,170.76 1836.84,170.57 C1838.18,170.38 1839.52,170.19 1840.86,169.99 C1842.20,169.80 1843.54,169.61 1844.88,169.41 C1846.22,169.22 1847.56,169.02 1848.90,168.82 C1850.24,168.63 1851.58,168.43 1852.92,168.23 C1854.26,168.03 1855.60,167.83 1856.94,167.63 C1858.28,167.43 1859.62,167.23 1860.96,167.03 C1862.30,166.83 1863.64,166.62 1864.98,166.42 C1866.32,166.22 1867.66,166.01 1869.00,165.80 C1870.34,165.60 1871.68,165.39 1873.02,165.18 C1874.36,164.97 1875.71,164.76 1877.05,164.55 C1878.39,164.34 1879.73,164.12 1881.07,163.91 C1882.41,163.69 1883.75,163.47 1885.09,163.24 C1886.43,163.01 1887.77,162.78 1889.11,162.55 C1890.45,162.31 1891.79,162.07 1893.13,161.83 C1894.47,161.58 1895.81,161.33 1897.15,161.07 C1898.49,160.81 1899.83,160.55 1901.17,160.28 C1902.51,160.01 1903.85,159.73 1905.19,159.44 C1906.53,159.15 1907.87,158.85 1909.21,158.55 C1910.55,158.24 1911.89,157.93 1913.23,157.60 C1914.57,157.28 1915.91,156.94 1917.25,156.60 C1918.59,156.25 1919.93,155.90 1921.27,155.53 C1922.62,155.16 1923.96,154.78 1925.30,154.39 C1926.64,154.00 1927.98,153.60 1929.32,153.18 C1930.66,152.76 1932.00,152.33 1933.34,151.88 C1934.68,151.44 1936.02,150.98 1937.36,150.51 C1938.70,150.03 1940.04,149.59 1941.38,149.04 C1942.72,148.49 1944.73,147.51 1945.40,147.20 C1945.33,156.00 1945.20,182.87 1945.00,200.00 C1944.80,217.13 1944.50,233.33 1944.20,250.00 C1943.90,266.67 1943.73,284.08 1943.20,300.00 C1942.67,315.92 1941.70,331.33 1941.00,345.50 C1940.30,359.67 1939.60,375.92 1939.00,385.00 C1938.40,394.08 1937.80,394.62 1937.40,400.00 C1937.00,405.38 1937.03,411.53 1936.60,417.30 C1936.17,423.07 1935.73,428.82 1934.80,434.60 C1933.87,440.38 1932.58,446.80 1931.00,452.00 C1929.42,457.20 1927.25,461.48 1925.30,465.80 C1923.35,470.12 1922.33,474.30 1919.30,477.90 C1916.27,481.50 1911.43,485.43 1907.10,487.40 C1902.77,489.37 1899.93,489.12 1893.30,489.70 C1886.67,490.28 1874.52,490.63 1867.30,490.90 C1860.08,491.17 1853.55,491.27 1850.00,491.30 C1846.45,491.33 1847.33,491.13 1846.00,491.11 C1844.66,491.09 1843.33,491.15 1842.00,491.17 C1840.66,491.19 1839.33,491.21 1837.99,491.23 C1836.66,491.25 1835.33,491.27 1833.99,491.29 C1832.66,491.31 1831.32,491.32 1829.99,491.34 C1828.66,491.36 1827.32,491.37 1825.99,491.39 C1824.65,491.41 1823.32,491.42 1821.99,491.44 C1820.65,491.45 1819.32,491.47 1817.98,491.48 C1816.65,491.49 1815.32,491.51 1813.98,491.52 C1812.65,491.53 1811.31,491.54 1809.98,491.55 C1808.65,491.56 1807.31,491.58 1805.98,491.59 C1804.64,491.60 1803.31,491.60 1801.98,491.61 C1800.64,491.62 1799.31,491.63 1797.97,491.64 C1796.64,491.65 1795.31,491.65 1793.97,491.66 C1792.64,491.66 1791.30,491.67 1789.97,491.68 C1788.63,491.68 1787.30,491.69 1785.97,491.69 C1784.63,491.69 1783.30,491.70 1781.96,491.70 C1780.63,491.70 1779.30,491.70 1777.96,491.71 C1776.63,491.71 1775.29,491.71 1773.96,491.71 C1772.63,491.71 1771.29,491.71 1769.96,491.71 C1768.62,491.70 1767.29,491.70 1765.96,491.70 C1764.62,491.70 1763.29,491.70 1761.95,491.69 C1760.62,491.69 1759.29,491.68 1757.95,491.68 C1756.62,491.67 1755.28,491.67 1753.95,491.66 C1752.62,491.66 1751.28,491.65 1749.95,491.64 C1748.61,491.63 1747.28,491.63 1745.95,491.62 C1744.61,491.61 1743.28,491.60 1741.94,491.59 C1740.61,491.58 1739.28,491.57 1737.94,491.56 C1736.61,491.55 1735.27,491.53 1733.94,491.52 C1732.61,491.51 1731.27,491.49 1729.94,491.48 C1728.60,491.47 1727.27,491.45 1725.94,491.44 C1724.60,491.42 1723.27,491.41 1721.93,491.39 C1720.60,491.37 1719.27,491.35 1717.93,491.34 C1716.60,491.32 1715.26,491.30 1713.93,491.28 C1712.60,491.26 1711.26,491.24 1709.93,491.22 C1708.59,491.20 1707.26,491.18 1705.93,491.16 C1704.59,491.13 1703.26,491.11 1701.92,491.09 C1700.59,491.06 1699.26,491.04 1697.92,491.02 C1696.59,490.99 1695.25,490.97 1693.92,490.94 C1692.59,490.91 1691.25,490.89 1689.92,490.86 C1688.58,490.83 1687.25,490.80 1685.92,490.77 C1684.58,490.75 1683.25,490.72 1681.91,490.69 C1680.58,490.66 1679.25,490.62 1677.91,490.59 C1676.58,490.56 1675.24,490.53 1673.91,490.49 C1672.57,490.46 1671.24,490.43 1669.91,490.39 C1668.57,490.36 1667.24,490.32 1665.90,490.29 C1664.57,490.25 1663.24,490.21 1661.90,490.18 C1660.57,490.14 1659.23,490.10 1657.90,490.06 C1656.57,490.02 1655.23,489.98 1653.90,489.94 C1652.56,489.90 1651.23,489.86 1649.90,489.82 C1648.56,489.78 1647.23,489.74 1645.89,489.69 C1644.56,489.65 1643.23,489.61 1641.89,489.56 C1640.56,489.52 1639.22,489.47 1637.89,489.43 C1636.56,489.38 1635.22,489.33 1633.89,489.29 C1632.55,489.24 1631.22,489.19 1629.89,489.14 C1628.55,489.09 1627.22,489.04 1625.88,488.99 C1624.55,488.94 1623.22,488.89 1621.88,488.84 C1620.55,488.79 1619.21,488.73 1617.88,488.68 C1616.55,488.63 1615.21,488.57 1613.88,488.52 C1612.54,488.46 1611.21,488.41 1609.88,488.35 C1608.54,488.29 1607.21,488.24 1605.87,488.18 C1604.54,488.12 1603.21,488.06 1601.87,488.00 C1600.54,487.94 1599.20,487.88 1597.87,487.82 C1596.54,487.76 1595.20,487.70 1593.87,487.64 C1592.53,487.57 1591.20,487.51 1589.87,487.45 C1588.53,487.38 1587.20,487.32 1585.86,487.25 C1584.53,487.18 1583.20,487.12 1581.86,487.05 C1580.53,486.98 1579.19,486.92 1577.86,486.85 C1576.53,486.78 1575.19,486.71 1573.86,486.64 C1572.52,486.57 1571.19,486.50 1569.86,486.42 C1568.52,486.35 1567.19,486.28 1565.85,486.21 C1564.52,486.13 1563.19,486.06 1561.85,485.98 C1560.52,485.91 1559.18,485.83 1557.85,485.76 C1556.51,485.68 1555.18,485.60 1553.85,485.52 C1552.51,485.45 1551.18,485.37 1549.84,485.29 C1548.51,485.21 1547.18,485.13 1545.84,485.04 C1544.51,484.96 1543.17,484.88 1541.84,484.80 C1540.51,484.71 1539.17,484.63 1537.84,484.55 C1536.50,484.46 1535.17,484.38 1533.84,484.29 C1532.50,484.20 1531.17,484.12 1529.83,484.03 C1528.50,483.94 1527.17,483.85 1525.83,483.76 C1524.50,483.67 1523.16,483.58 1521.83,483.49 C1520.50,483.40 1519.16,483.31 1517.83,483.21 C1516.49,483.12 1515.16,483.03 1513.83,482.93 C1512.49,482.84 1511.16,482.74 1509.82,482.65 C1508.49,482.55 1507.16,482.45 1505.82,482.36 C1504.49,482.26 1503.15,482.16 1501.82,482.06 C1500.49,481.96 1499.15,481.86 1497.82,481.76 C1496.48,481.66 1495.15,481.55 1493.82,481.45 C1492.48,481.35 1491.15,481.25 1489.81,481.14 C1488.48,481.04 1487.15,480.93 1485.81,480.82 C1484.48,480.72 1483.14,480.61 1481.81,480.50 C1480.48,480.39 1479.14,480.29 1477.81,480.18 C1476.47,480.07 1475.14,479.96 1473.81,479.84 C1472.47,479.73 1471.14,479.62 1469.80,479.51 C1468.47,479.39 1467.14,479.28 1465.80,479.16 C1464.47,479.05 1463.13,478.93 1461.80,478.82 C1460.47,478.70 1459.13,478.58 1457.80,478.46 C1456.46,478.35 1455.13,478.23 1453.80,478.11 C1452.46,477.99 1451.13,477.87 1449.79,477.74 C1448.46,477.62 1447.13,477.50 1445.79,477.37 C1444.46,477.25 1443.12,477.13 1441.79,477.00 C1440.45,476.88 1439.12,476.75 1437.79,476.62 C1436.45,476.49 1435.12,476.37 1433.78,476.24 C1432.45,476.11 1431.12,475.98 1429.78,475.85 C1428.45,475.72 1427.11,475.58 1425.78,475.45 C1424.45,475.32 1423.11,475.19 1421.78,475.05 C1420.44,474.92 1419.11,474.79 1417.78,474.65 C1416.44,474.52 1415.11,474.38 1413.77,474.25 C1412.44,474.12 1411.11,473.98 1409.77,473.85 C1408.44,473.72 1407.10,473.59 1405.77,473.46 C1404.44,473.33 1403.10,473.20 1401.77,473.08 C1400.43,472.95 1399.10,472.82 1397.77,472.70 C1396.43,472.58 1395.10,472.46 1393.76,472.34 C1392.43,472.22 1391.10,472.11 1389.76,471.99 C1388.43,471.88 1387.09,471.77 1385.76,471.66 C1384.43,471.56 1383.09,471.45 1381.76,471.36 C1380.42,471.26 1379.09,471.16 1377.76,471.07 C1376.42,470.98 1375.09,470.89 1373.75,470.81 C1372.42,470.73 1371.09,470.65 1369.75,470.58 C1368.42,470.50 1367.08,470.43 1365.75,470.37 C1364.42,470.31 1363.08,470.25 1361.75,470.20 C1360.41,470.15 1359.08,470.10 1357.75,470.06 C1356.41,470.02 1355.08,469.99 1353.74,469.96 C1352.41,469.94 1351.08,469.92 1349.74,469.91 C1348.41,469.89 1347.07,469.89 1345.74,469.89 C1344.41,469.89 1343.07,469.90 1341.74,469.91 C1340.40,469.93 1339.07,469.95 1337.74,469.98 C1336.40,470.01 1335.07,470.05 1333.73,470.10 C1332.40,470.14 1331.07,470.20 1329.73,470.26 C1328.40,470.32 1327.06,470.38 1325.73,470.46 C1324.39,470.54 1323.06,470.62 1321.73,470.71 C1320.39,470.80 1319.06,470.90 1317.72,471.01 C1316.39,471.11 1315.06,471.23 1313.72,471.35 C1312.39,471.47 1311.05,471.60 1309.72,471.74 C1308.39,471.88 1307.05,472.02 1305.72,472.18 C1304.38,472.33 1303.05,472.49 1301.72,472.66 C1300.38,472.84 1299.05,473.01 1297.71,473.20 C1296.38,473.39 1295.05,473.58 1293.71,473.79 C1292.38,473.99 1291.04,474.20 1289.71,474.42 C1288.38,474.64 1287.04,474.87 1285.71,475.11 C1284.37,475.34 1283.04,475.59 1281.71,475.84 C1280.37,476.10 1279.04,476.36 1277.70,476.63 C1276.37,476.90 1275.04,477.21 1273.70,477.47 C1272.37,477.73 1271.58,477.61 1269.70,478.20 C1267.82,478.79 1263.62,480.53 1262.40,481.00" stroke="#f00" stroke-width="4.3"/>
</g>
<rect x="1259.6" y="41.4" width="357.2" height="66.5" fill="#fff" stroke="#444" stroke-width="1.4"/>
<line x1="1273.30" y1="59.40" x2="1333.40" y2="59.40" stroke="#000" stroke-width="4.3" stroke-linecap="round"/>
<line x1="1273.30" y1="92.60" x2="1333.40" y2="92.60" stroke="#f00" stroke-width="4.3" stroke-linecap="round"/>
<text x="1339.80" y="67.70" font-size="27.25" font-weight="normal" text-anchor="start" >Initial</text>
<text x="1341.00" y="102.20" font-size="27.25" font-weight="normal" text-anchor="start" >After 1000 Cycles T40</text>
<text x="1957" y="70.2" font-size="29"><tspan font-weight="normal">(</tspan><tspan font-weight="bold">b)</tspan></text>
<text x="1566.60" y="307.00" font-size="27.6" font-weight="normal" text-anchor="start" >IL/2ACN</text>
<text transform="translate(1554.60,396.70) scale(1,1.03)" font-size="27" font-weight="normal" text-anchor="start" >0.05 - 2.8 V</text>
<text transform="translate(1860.50,564.70) scale(1,1.09)" font-size="31.5" font-weight="bold" text-anchor="start" >10 mVs</text>
<text x="1969.5" y="556.6" font-size="20" font-weight="bold">−</text>
<text x="1980.5" y="546.8" font-size="20" font-weight="bold" transform="translate(0,-44) scale(1,1.08)">1</text>
<text transform="translate(1622.90,671.60) scale(1,1.02)" font-size="25.65" font-weight="bold" text-anchor="middle" >Cell voltage (V)</text>
<g transform="translate(1147.30,500.50) rotate(-90)"><text x="0" y="0" font-size="27.09" font-weight="bold">Specific Capacitance (Fg</text><text x="320.58" y="-6.80" font-size="16.9" font-weight="normal">−</text><text x="329.59" y="-15.40" font-size="15.8" font-weight="normal">1</text><text x="339.76" y="0" font-size="27.09" font-weight="bold">)</text></g>
</svg></body></html>
